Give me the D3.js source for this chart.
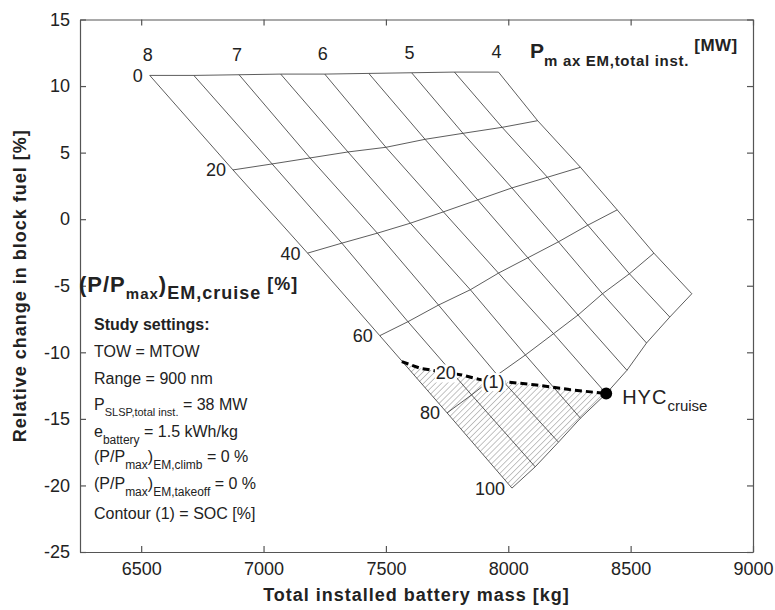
<!DOCTYPE html>
<meta charset="utf-8">
<style>
    body { margin: 0; background: #fff; }
    svg { font-family: "Liberation Sans", Arial, sans-serif; }
    .axis path, .axis line { stroke: #555; stroke-width: 1.2; }
    .axis text { font-size: 18px; fill: #222; font-family: "Liberation Sans", Arial, sans-serif; }
    .grid { fill: none; stroke: #333; stroke-width: 0.8; }
    .lbl { font-size: 18px; fill: #222; }
    .note { font-size: 16px; fill: #222; }
</style>
<body>
<div id="plotarea"></div>
<script src="https://cdn.jsdelivr.net/npm/d3@7/dist/d3.min.js"></script>
<script>

    // carpet: rows = cruise share of EM power, columns = installed EM power
    var pMax = [8, 7.5, 7, 6.5, 6, 5.5, 5, 4.5, 4];
    var cruiseShare = [0, 20, 40, 60, 80, 100];
    var massGrid = [
        [6535, 6715, 6900, 7070, 7250, 7430, 7605, 7780, 7960],
        [6875, 7035, 7190, 7345, 7500, 7660, 7815, 7975, 8120],
        [7180, 7320, 7465, 7600, 7735, 7875, 8015, 8160, 8295],
        [7475, 7590, 7715, 7845, 7960, 8080, 8205, 8325, 8445],
        [7750, 7850, 7955, 8070, 8185, 8285, 8385, 8495, 8595],
        [8015, 8110, 8205, 8295, 8400, 8485, 8565, 8660, 8750]
    ];
    var fuelGrid = [
        [10.8, 10.8, 10.85, 10.9, 10.9, 10.95, 11.0, 11.05, 11.05],
        [3.7, 4.15, 4.6, 5.05, 5.4, 6.0, 6.45, 6.9, 7.4],
        [-2.55, -1.8, -1.05, -0.3, 0.55, 1.45, 2.35, 3.15, 3.9],
        [-8.75, -7.7, -6.45, -5.3, -4.05, -2.9, -1.7, -0.45, 0.7],
        [-14.55, -13.2, -11.7, -10.2, -8.6, -7.2, -5.6, -4.1, -2.55],
        [-20.2, -18.6, -16.75, -14.95, -13.1, -11.35, -9.3, -7.35, -5.6]
    ];

    // SOC = 20 % contour, ends at the HYC cruise point
    var socMass = [7565, 7640, 7810, 7885, 8005, 8115, 8250, 8400];
    var socFuel = [-10.7, -11.2, -11.7, -12.05, -12.25, -12.45, -12.8, -13.1];
    var hycMass = 8400, hycFuel = -13.1;

    var xTicks = [6500, 7000, 7500, 8000, 8500, 9000];
    var yTicks = [-25, -20, -15, -10, -5, 0, 5, 10, 15];

    var margin = {top: 19.5, right: 22, bottom: 58, left: 80},
            width = 775 - margin.left - margin.right,
            height = 610 - margin.top - margin.bottom;

    var x = d3.scaleLinear().domain([6250, 9000]).range([0, width]);
    var y = d3.scaleLinear().domain([-25, 15]).range([height, 0]);

    var root = d3.select("#plotarea").append("svg")
            .attr("width", 775)
            .attr("height", 610);
    var svg = root.append("g")
            .attr("transform", "translate(" + margin.left + "," + margin.top + ")");

    root.append("defs").append("pattern")
            .attr("id", "hatch")
            .attr("patternUnits", "userSpaceOnUse")
            .attr("width", 4.2).attr("height", 4.2)
            .attr("patternTransform", "rotate(45)")
            .append("line")
            .attr("x1", 0).attr("y1", 0).attr("x2", 0).attr("y2", 4.2)
            .attr("stroke", "#888").attr("stroke-width", 1);

    var plain = function(d) { return String(d); };

    // axes, ticks pointing inward on all four sides
    svg.append("g").attr("class", "axis")
            .attr("transform", "translate(0," + height + ")")
            .call(d3.axisBottom(x).tickValues(xTicks).tickFormat(plain)
                    .tickSize(-6).tickSizeOuter(0).tickPadding(10));
    svg.append("g").attr("class", "axis")
            .call(d3.axisLeft(y).tickValues(yTicks).tickFormat(plain)
                    .tickSize(-6).tickSizeOuter(0).tickPadding(10));
    svg.append("g").attr("class", "axis")
            .call(d3.axisTop(x).tickValues(xTicks).tickSize(-6).tickSizeOuter(0).tickFormat(""));
    svg.append("g").attr("class", "axis")
            .attr("transform", "translate(" + width + ",0)")
            .call(d3.axisRight(y).tickValues(yTicks).tickSize(-6).tickSizeOuter(0).tickFormat(""));

    var line = d3.line()
            .x(function(d) { return x(d[0]); })
            .y(function(d) { return y(d[1]); });

    // hatched region: below SOC contour
    var hatchPts = socMass.map(function(m, i) { return [m, socFuel[i]]; });
    for (var j = 3; j >= 0; j--) hatchPts.push([massGrid[5][j], fuelGrid[5][j]]);
    hatchPts.push([massGrid[4][0], fuelGrid[4][0]]);
    svg.append("path")
            .attr("d", line(hatchPts) + "Z")
            .attr("fill", "url(#hatch)")
            .attr("stroke", "none");

    // constant power lines
    pMax.forEach(function(p, j) {
        var pts = cruiseShare.map(function(c, i) { return [massGrid[i][j], fuelGrid[i][j]]; });
        svg.append("path").attr("class", "grid").attr("d", line(pts));
    });
    // constant cruise share lines
    cruiseShare.forEach(function(c, i) {
        var pts = pMax.map(function(p, j) { return [massGrid[i][j], fuelGrid[i][j]]; });
        svg.append("path").attr("class", "grid").attr("d", line(pts));
    });

    // power labels along top edge
    pMax.forEach(function(p, j) {
        if (p % 1 !== 0) return;
        svg.append("text").attr("class", "lbl")
                .attr("x", x(massGrid[0][j]) - 2)
                .attr("y", y(fuelGrid[0][j]) - 14)
                .attr("text-anchor", "middle")
                .text(p);
    });
    // cruise share labels along left edge
    cruiseShare.forEach(function(c, i) {
        svg.append("text").attr("class", "lbl")
                .attr("x", x(massGrid[i][0]) - 7)
                .attr("y", y(fuelGrid[i][0]) + 6.5)
                .attr("text-anchor", "end")
                .text(c);
    });

    // SOC contour
    var socPts = socMass.map(function(m, i) { return [m, socFuel[i]]; });
    svg.append("path")
            .attr("d", line(socPts))
            .attr("fill", "none")
            .attr("stroke", "#000")
            .attr("stroke-width", 3)
            .attr("stroke-dasharray", "7,4");

    var contourLabels = [{t: "20", m: 7745, f: -11.55}, {t: "(1)", m: 7940, f: -12.2}];
    contourLabels.forEach(function(d) {
        var g = svg.append("g").attr("transform", "translate(" + x(d.m) + "," + y(d.f) + ")");
        var t = g.append("text").attr("class", "lbl")
                .attr("text-anchor", "middle").attr("y", 6.5).text(d.t);
        var bb = t.node().getBBox();
        g.insert("rect", "text")
                .attr("x", bb.x - 1).attr("y", bb.y + 1)
                .attr("width", bb.width + 2).attr("height", bb.height - 2)
                .attr("fill", "#fff");
    });

    svg.append("circle")
            .attr("cx", x(hycMass)).attr("cy", y(hycFuel))
            .attr("r", 6).attr("fill", "#000");

    var hyc = svg.append("text").attr("x", x(hycMass) + 16).attr("y", y(hycFuel) + 10)
            .style("font-size", "20px").style("fill", "#222");
    hyc.append("tspan").style("letter-spacing", "1px").text("HYC");
    hyc.append("tspan").attr("dy", 7).style("font-size", "15px").text("cruise");

    // rich text in page coordinates: parts are [text, size, shift, bold, spacing]
    function rich(px, py, parts, cls) {
        var t = root.append("text").attr("x", px).attr("y", py).attr("class", cls || "note");
        var prev = 0;
        parts.forEach(function(p) {
            var s = t.append("tspan")
                    .attr("dy", p[2] - prev)
                    .style("font-size", p[1] + "px")
                    .style("font-weight", p[3] ? "bold" : null)
                    .text(p[0]);
            if (p[4]) s.style("letter-spacing", p[4] + "px");
            prev = p[2];
        });
        return t;
    }

    // carpet axis titles
    rich(530, 58, [["P", 21, 0, 1], ["m ax EM,total inst.", 15, 8, 1, 0.7],
        [" [MW]", 17, -7, 1, 0.5]]);
    rich(79, 292, [["(P/P", 22, 0, 1, 1], ["max", 15, 7, 1, 1], [")", 22, 0, 1, 1],
        ["EM,cruise", 18, 7, 1, 1], [" [%]", 18, -2, 1, 1]]);

    // study settings block
    var nx = 94;
    rich(nx, 330, [["Study settings:", 16, 0, 1]]);
    rich(nx, 357, [["TOW = MTOW", 16, 0]]);
    rich(nx, 384, [["Range = 900 nm", 16, 0]]);
    rich(nx, 410, [["P", 16, 0], ["SLSP,total inst.", 11, 6], [" = 38 MW", 16, 0]]);
    rich(nx, 437, [["e", 16, 0], ["battery", 12, 7], [" = 1.5 kWh/kg", 16, 0]]);
    rich(nx, 462, [["(P/P", 16, 0], ["max", 12, 7], [")", 16, 0], ["EM,climb", 12, 7], [" = 0 %", 16, 0]]);
    rich(nx, 489, [["(P/P", 16, 0], ["max", 12, 7], [")", 16, 0], ["EM,takeoff", 12, 7], [" = 0 %", 16, 0]]);
    rich(nx, 519, [["Contour (1) = SOC [%]", 16, 0]]);

    // axis titles
    svg.append("text")
            .attr("x", width / 2).attr("y", height + 49)
            .attr("text-anchor", "middle")
            .style("font-size", "18px").style("font-weight", "bold")
            .style("letter-spacing", "1px").style("fill", "#222")
            .text("Total installed battery mass [kg]");
    svg.append("text")
            .attr("transform", "translate(-54," + (height / 2) + ") rotate(-90)")
            .attr("text-anchor", "middle")
            .style("font-size", "18px").style("font-weight", "bold")
            .style("letter-spacing", "1px").style("fill", "#222")
            .text("Relative change in block fuel [%]");

</script>
